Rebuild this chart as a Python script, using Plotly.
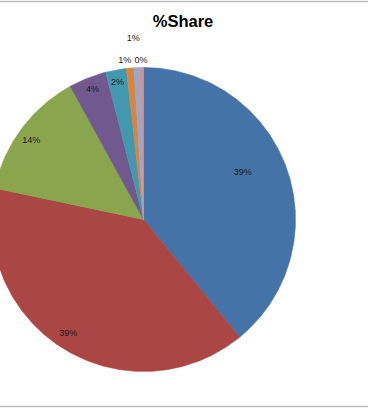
import numpy as np
import plotly.graph_objects as go

# ---- data ----
categories = ["A", "B", "C", "D", "E", "F", "G", "H"]
shares = [39.1, 39.2, 13.7, 4.0, 2.2, 0.8, 0.6, 0.4]
colors = ["#4572A7", "#AA4643", "#89A54E", "#71588F", "#4198AF", "#DB843D", "#93A9CF", "#D19392"]
title_text = "%Share"

# ---- label placement styles (radius factor, angle shift in deg) ----
label_r = [0.72, 0.90, 0.90, 0.92, 0.915, 1.05, 1.19, 1.043]
label_shift = [-5.4, 2.0, -1.6, 0.2, -0.3, -1.7, -0.7, -0.2]

W, H = 368, 408
CX, CY, R = 143.5, 219.5, 152.0

fig = go.Figure()

total = sum(shares)
start = 0.0
mids = []
for cat, v, col in zip(categories, shares, colors):
    span = 360.0 * v / total
    end = start + span
    n = max(int(span * 2) + 2, 3)
    th = np.radians(np.linspace(start, end, n))
    xs = np.concatenate([[CX], CX + R * np.sin(th), [CX]])
    ys = np.concatenate([[CY], CY - R * np.cos(th), [CY]])
    fig.add_trace(go.Scatter(
        x=xs, y=ys, mode="lines", fill="toself", fillcolor=col,
        line=dict(color=col, width=0.6), name=cat, hoverinfo="skip",
        showlegend=False))
    mids.append((start + end) / 2)
    start = end

lx, ly, lt = [], [], []
for v, m, rf, sh in zip(shares, mids, label_r, label_shift):
    a = np.radians(m + sh)
    lx.append(CX + R * rf * np.sin(a))
    ly.append(CY - R * rf * np.cos(a))
    lt.append(f"{round(v * 100 / total)}%")

fig.add_trace(go.Scatter(
    x=lx, y=ly, mode="text", text=lt, textposition="middle center",
    textfont=dict(family="Liberation Sans, Arial, sans-serif", size=9, color="#1a1a1a"),
    hoverinfo="skip", showlegend=False))

fig.update_layout(
    width=W, height=H, autosize=False,
    margin=dict(l=0, r=0, t=0, b=0),
    paper_bgcolor="white", plot_bgcolor="white",
    xaxis=dict(range=[0, W], visible=False, fixedrange=True),
    yaxis=dict(range=[H, 0], visible=False, fixedrange=True),
    title=dict(text="<b>" + title_text + "</b>", x=183 / W, y=1 - 21 / H,
               xref="container", yref="container", xanchor="center", yanchor="middle",
               font=dict(family="Liberation Sans, Arial, sans-serif", size=16.5, color="#000000")),
    shapes=[
        dict(type="line", xref="x", yref="y", x0=0, x1=W, y0=1.5, y1=1.5,
             line=dict(color="#BFBFBF", width=1.5)),
        dict(type="line", xref="x", yref="y", x0=0, x1=W, y0=406.5, y1=406.5,
             line=dict(color="#BFBFBF", width=1.5)),
    ],
)

fig.write_html("out.html", config={"displayModeBar": False, "staticPlot": True},
               post_script="document.body.style.margin='0px';document.body.style.overflow='hidden';")
